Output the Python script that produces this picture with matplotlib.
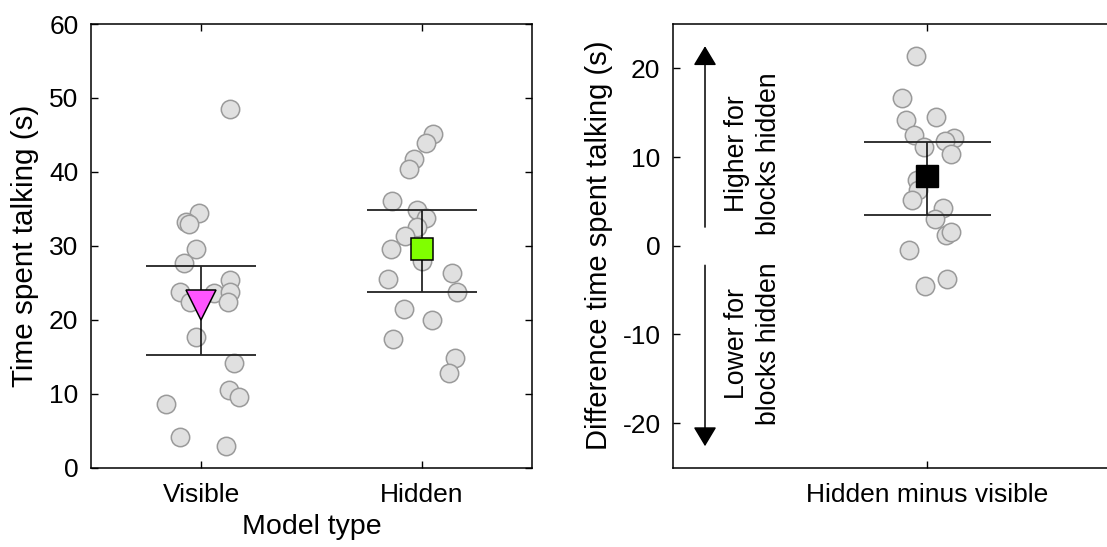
import matplotlib
matplotlib.use("Agg")
import matplotlib.pyplot as plt

plt.rcParams['font.family'] = ['Liberation Sans', 'DejaVu Sans']
plt.rcParams['axes.unicode_minus'] = False

# ---- data ----
categories = ["Visible", "Hidden"]
visible_vals = [48.5, 34.4, 33.2, 32.9, 29.6, 27.7, 25.3, 23.7, 23.6, 23.7,
                22.4, 22.4, 17.7, 14.1, 10.5, 9.6, 8.6, 4.1, 2.9]
visible_jit = [0.13, -0.01, -0.07, -0.055, -0.025, -0.08, 0.13, -0.095, 0.06, 0.13,
               -0.05, 0.12, -0.025, 0.15, 0.125, 0.17, -0.16, -0.095, 0.11]
hidden_vals = [45.1, 43.9, 41.8, 40.4, 36.0, 34.9, 33.8, 32.6, 31.3, 29.5,
               28.0, 26.3, 25.5, 23.7, 21.5, 19.9, 17.4, 14.8, 12.8]
hidden_jit = [0.05, 0.02, -0.035, -0.06, -0.135, -0.02, 0.02, -0.02, -0.075, -0.14,
              0.0, 0.135, -0.155, 0.16, -0.08, 0.045, -0.13, 0.15, 0.125]
means = [22.0, 29.5]
ci_low = [15.2, 23.8]
ci_high = [27.3, 34.8]

diff_label = "Hidden minus visible"
diff_vals = [21.4, 16.7, 14.2, 14.5, 12.5, 12.2, 11.8, 11.1, 10.3, 7.4,
             6.3, 5.2, 4.2, 3.0, 1.2, 1.6, -0.5, -3.8, -4.5]
diff_jit = [-0.043, -0.098, -0.084, 0.034, -0.052, 0.106, 0.07, -0.012, 0.093, -0.038,
            -0.035, -0.061, 0.063, 0.03, 0.076, 0.096, -0.071, 0.078, -0.006]
diff_mean = 7.9
diff_low = 3.5
diff_high = 11.7

TICK_FS = 19
PT_FC = "#e0e0e0"
PT_EC = "#9a9a9a"

W, H = 1107, 547
fig = plt.figure(figsize=(W / 100, H / 100), dpi=100)

def px_axes(x0, x1, ytop, ybot):
    return fig.add_axes([x0 / W, (H - ybot) / H, (x1 - x0) / W, (ybot - ytop) / H])

ax1 = px_axes(91, 532, 24, 467.5)
ax2 = px_axes(673, 1181, 24, 467.5)

for ax in (ax1, ax2):
    ax.tick_params(direction='in', length=5, width=1, top=True, right=True,
                   labelsize=TICK_FS, pad=9, color='black')
    ax.tick_params(axis='x', pad=11)
    for s in ax.spines.values():
        s.set_linewidth(1.1)
        s.set_color('black')

# ---- left panel ----
groups = [(visible_vals, visible_jit), (hidden_vals, hidden_jit)]
for i, (vals, jit) in enumerate(groups):
    pos = i + 1
    ax1.scatter([pos + j for j in jit], vals, s=175, facecolor=PT_FC,
                edgecolor=PT_EC, linewidth=1.1, zorder=2)
    ax1.vlines(pos, ci_low[i], ci_high[i], color='black', linewidth=1.1, zorder=3)
    ax1.hlines([ci_low[i], ci_high[i]], pos - 0.25, pos + 0.25, color='#222222',
               linewidth=1.3, zorder=3)

ax1.plot(1, means[0], marker='v', markersize=21, markerfacecolor='#ff55ff',
         markeredgecolor='black', markeredgewidth=1.1, linestyle='none', zorder=4)
ax1.plot(2, means[1], marker='s', markersize=15.5, markerfacecolor='#80ff00',
         markeredgecolor='black', markeredgewidth=1.1, linestyle='none', zorder=4)

ax1.set_xlim(0.5, 2.5)
ax1.set_ylim(0, 60)
ax1.set_xticks([1, 2])
ax1.set_xticklabels(categories)
ax1.set_yticks(range(0, 61, 10))
ax1.set_ylabel("Time spent talking (s)", fontsize=21.3, labelpad=7)
ax1.set_xlabel("Model type", fontsize=20.5, labelpad=5)

# ---- right panel ----
ax2.scatter([0 + j for j in diff_jit], diff_vals, s=175, facecolor=PT_FC,
            edgecolor=PT_EC, linewidth=1.1, zorder=2)
ax2.vlines(0, diff_low, diff_high, color='black', linewidth=1.1, zorder=3)
ax2.hlines([diff_low, diff_high], -0.25, 0.25, color='#222222', linewidth=1.3, zorder=3)
ax2.plot(0, diff_mean, marker='s', markersize=15.5, markerfacecolor='black',
         markeredgecolor='black', linestyle='none', zorder=4)

ax2.set_xlim(-1, 1)
ax2.set_ylim(-25, 25)
ax2.set_xticks([0])
ax2.set_xticklabels([diff_label])
ax2.set_yticks(range(-20, 21, 10))
ax2.set_ylabel("Difference time spent talking (s)", fontsize=21, labelpad=7)

arrow_x = -0.874
astyle = '-|>,head_length=1.2,head_width=0.72'
ax2.annotate("", xy=(arrow_x, 22.5), xytext=(arrow_x, 2.1),
             arrowprops=dict(arrowstyle=astyle, mutation_scale=10,
                             color='black', lw=1.1, shrinkA=0, shrinkB=0))
ax2.annotate("", xy=(arrow_x, -22.6), xytext=(arrow_x, -2.2),
             arrowprops=dict(arrowstyle=astyle, mutation_scale=10,
                             color='black', lw=1.1, shrinkA=0, shrinkB=0))
ax2.text(-0.685, 10.4, "Higher for\nblocks hidden", rotation=90, ha='center',
         va='center', fontsize=19.2, linespacing=1.3, multialignment='center')
ax2.text(-0.685, -11.0, "Lower for\nblocks hidden", rotation=90, ha='center',
         va='center', fontsize=19.2, linespacing=1.3, multialignment='center')

fig.savefig("out.png", dpi=100)
